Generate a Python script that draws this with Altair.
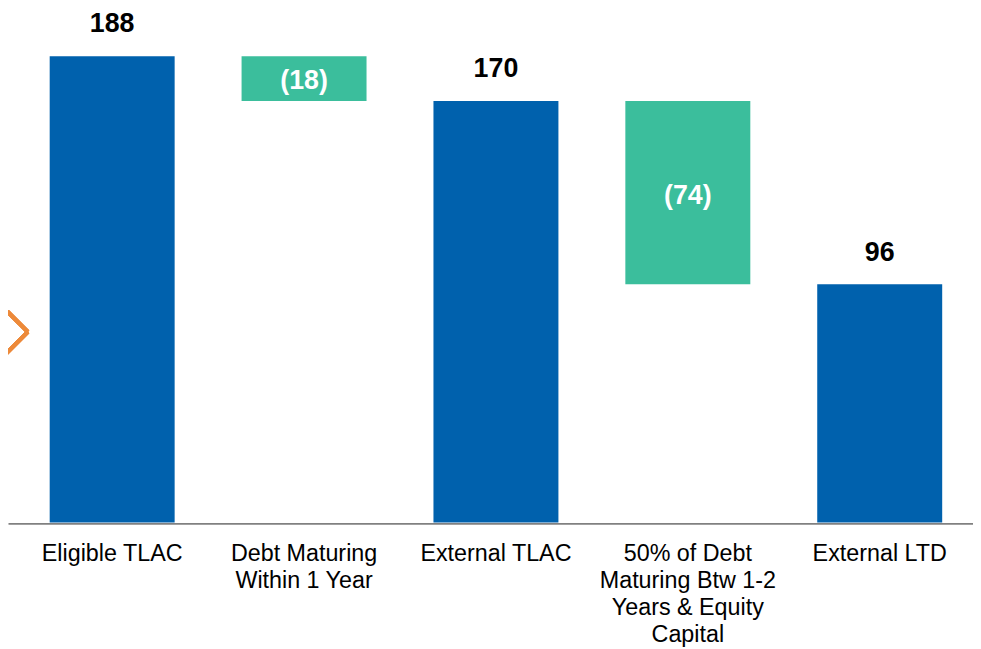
import altair as alt
import pandas as pd

categories = ["Eligible TLAC", "Debt Maturing\nWithin 1 Year", "External TLAC",
              "50% of Debt\nMaturing Btw 1-2\nYears & Equity\nCapital", "External LTD"]
values = [188, -18, 170, -74, 96]
kinds = ["total", "delta", "total", "delta", "total"]
labels = ["188", "(18)", "170", "(74)", "96"]

rows = []
running = 0
for c, v, k, l in zip(categories, values, kinds, labels):
    if k == "total":
        lo, hi = 0, v
        running = v
    else:
        hi = running
        lo = running + v
        running = lo
    rows.append({"cat": c, "lo": lo, "hi": hi, "kind": k, "label": l, "mid": (lo + hi) / 2})
df = pd.DataFrame(rows)

FONT = "Arial"
BLUE = "#0061AD"
GREEN = "#3BBE9C"

xs = alt.X("cat:N", sort=categories,
           scale=alt.Scale(paddingInner=0.349, paddingOuter=0.189, align=0.575),
           axis=alt.Axis(title=None, labelAngle=0, ticks=False, labelPadding=18,
                         labelFont=FONT, labelFontSize=23.5, labelColor="#000000",
                         labelLineHeight=27.5, labelLimit=0, labelBaseline="top",
                         domainColor="#808080", domainWidth=2, offset=1,
                         labelExpr="split(datum.label, '\\n')"))
ys = alt.Scale(domain=[0, 206.4], nice=False, zero=True)

base = alt.Chart(df)

bars = base.mark_bar(size=126).encode(
    x=xs,
    y=alt.Y("lo:Q", scale=ys, axis=None),
    y2="hi:Q",
    color=alt.Color("kind:N", scale=alt.Scale(domain=["total", "delta"], range=[BLUE, GREEN]), legend=None),
)

top_labels = base.transform_filter(alt.datum.kind == "total").mark_text(
    font=FONT, fontSize=27, fontWeight="bold", color="#000000", baseline="alphabetic", dy=-24
).encode(x=alt.X("cat:N", sort=categories), y=alt.Y("hi:Q", scale=ys), text="label:N")

mid_labels = base.transform_filter(alt.datum.kind == "delta").mark_text(
    font=FONT, fontSize=27, fontWeight="bold", color="#FFFFFF", baseline="middle", dy=3
).encode(x=alt.X("cat:N", sort=categories), y=alt.Y("mid:Q", scale=ys), text="label:N")

chev1 = alt.Chart(df).mark_rule(color="#ED8A3A", strokeWidth=4, strokeCap="butt").encode(
    x=alt.value(-2), y=alt.value(302), x2=alt.value(20), y2=alt.value(324))
chev2 = alt.Chart(df).mark_rule(color="#ED8A3A", strokeWidth=4, strokeCap="butt").encode(
    x=alt.value(20), y=alt.value(324), x2=alt.value(-2), y2=alt.value(346))

chart = alt.layer(bars, top_labels, mid_labels, chev1, chev2).properties(
    width=973, height=516,
    autosize=alt.AutoSizeParams(type="none"),
    padding={"left": 0, "right": 0, "top": 0, "bottom": 125}
).configure_view(stroke=None).configure_axis(grid=False)

chart.save("out.html", embed_options={"renderer": "svg", "actions": False})
